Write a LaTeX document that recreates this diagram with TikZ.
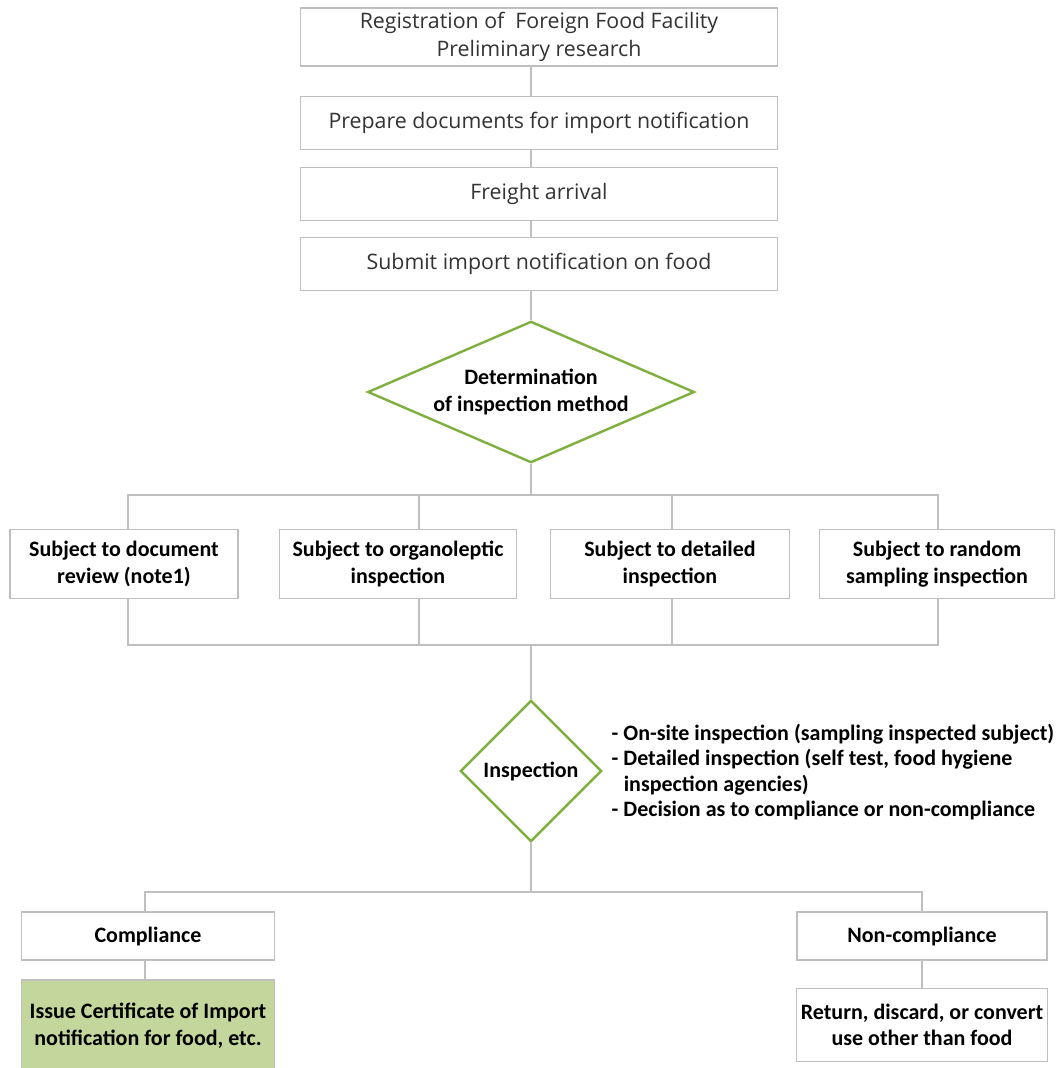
\documentclass[tikz,border=0pt]{standalone}
\usepackage{fontspec}
\setmainfont{Carlito}
\newfontfamily\boxfont{Open Sans}
\usetikzlibrary{shapes.geometric}
\definecolor{edgegray}{HTML}{BFBFBF}
\definecolor{leafgreen}{HTML}{7FB03F}
\definecolor{certfill}{HTML}{C3D69B}

\begin{document}
\begin{tikzpicture}[x=0.75pt,y=-0.75pt,
    stepbox/.style={draw=edgegray,line width=1.2pt,fill=white,minimum width=358pt,minimum height=40pt,align=center,text=black!80,font=\boxfont\fontsize{16}{21}\selectfont},
    kindbox/.style={draw=edgegray,line width=1.2pt,fill=white,minimum height=52pt,align=center,font=\bfseries\fontsize{16.5}{20}\selectfont},
    choice/.style={diamond,draw=leafgreen,line width=1.8pt,fill=white,inner sep=0pt,align=center,font=\bfseries\fontsize{16.5}{20}\selectfont},
    link/.style={draw=edgegray,line width=1.5pt}]

    \useasboundingbox[fill=white] (0,0) rectangle (1060,1068);

    % Steps before the inspection
    \node[stepbox] (reg) at (539,37) {Registration of \ Foreign Food Facility\\Preliminary research};
    \node[stepbox] (prep) at (539,123) {Prepare documents for import notification};
    \node[stepbox] (arrive) at (539,194) {Freight arrival};
    \node[stepbox] (submit) at (539,264) {Submit import notification on food};

    % First decision
    \node[choice,aspect=2.32,minimum width=245pt,minimum height=106pt] (method) at (531,392) {Determination\\of inspection method};

    % Kinds of inspection
    \node[kindbox,minimum width=171pt] (docrev) at (124,564) {Subject to document\\review (note1)};
    \node[kindbox,minimum width=178pt] (organo) at (398,564) {Subject to organoleptic\\inspection};
    \node[kindbox,minimum width=179pt] (detail) at (670,564) {Subject to detailed\\inspection};
    \node[kindbox,minimum width=176pt] (random) at (937,564) {Subject to random\\sampling inspection};

    % Second decision and its notes
    \node[choice,minimum width=106pt,minimum height=106pt] (insp) at (531,771) {Inspection};
    \node[anchor=west,align=left,font=\bfseries\fontsize{16.5}{19}\selectfont] (notes) at (607,772)
        {- On-site inspection (sampling inspected subject)\\
         - Detailed inspection (self test, food hygiene\\
         \hspace*{0.55em}inspection agencies)\\
         - Decision as to compliance or non-compliance};

    % Results
    \node[kindbox,minimum width=190pt,minimum height=36pt] (comply) at (148,936) {Compliance};
    \node[kindbox,minimum width=190pt,minimum height=69pt,fill=certfill] (cert) at (148,1026) {Issue Certificate of Import\\notification for food, etc.};
    \node[kindbox,minimum width=187.5pt,minimum height=36pt] (noncomply) at (922,936) {Non-compliance};
    \node[kindbox,minimum width=187.5pt,minimum height=55pt] (action) at (922,1025) {Return, discard, or convert\\use other than food};

    % Bus points
    \coordinate (split) at (531,495);
    \coordinate (join) at (531,645);
    \coordinate (fork) at (531,892);

    % Straight links
    \draw[link] (reg.south -| method) -- (prep.north -| method);
    \draw[link] (prep.south -| method) -- (arrive.north -| method);
    \draw[link] (arrive.south -| method) -- (submit.north -| method);
    \draw[link] (submit.south -| method) -- (method.north);

    % Branching to the kinds
    \draw[link] (method.south) -- (split);
    \draw[link] ([xshift=3pt]docrev.north) |- (split);
    \draw[link] ([xshift=15.75pt]organo.north) |- (split);
    \draw[link] ([xshift=1.5pt]detail.north) |- (split);
    \draw[link] ([xshift=0.75pt]random.north) |- (split);

    % Merging into the inspection
    \draw[link] ([xshift=3pt]docrev.south) |- (join);
    \draw[link] ([xshift=15.75pt]organo.south) |- (join);
    \draw[link] ([xshift=1.5pt]detail.south) |- (join);
    \draw[link] ([xshift=0.75pt]random.south) |- (join);
    \draw[link] (join) -- (insp.north);

    % Outcomes
    \draw[link] (insp.south) -- (fork);
    \draw[link] ([xshift=-2.25pt]comply.north) |- (fork);
    \draw[link] (noncomply.north) |- (fork);
    \draw[link] ([xshift=-2.25pt]comply.south) -- ([xshift=-2.25pt]cert.north);
    \draw[link] (noncomply) -- (action);
\end{tikzpicture}
\end{document}
